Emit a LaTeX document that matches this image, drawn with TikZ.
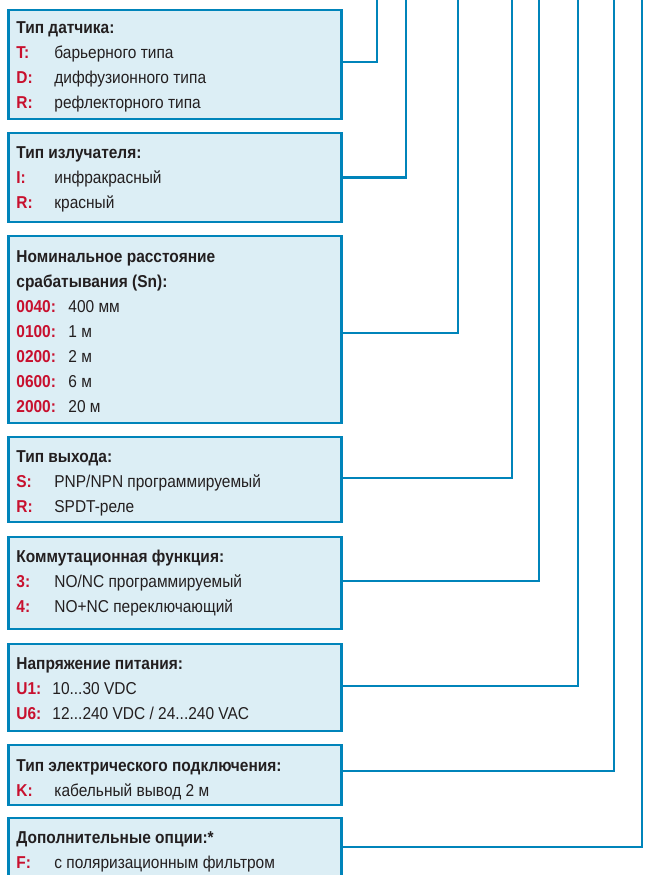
\documentclass[tikz,border=0pt]{standalone}
\usepackage{fontspec}
\setmainfont{Liberation Sans}[FakeStretch=0.9]
\usetikzlibrary{calc}
\definecolor{linkblue}{RGB}{0,132,186}
\definecolor{boxfill}{RGB}{220,238,245}
\definecolor{keyred}{RGB}{200,16,46}
\definecolor{textdark}{RGB}{35,31,32}
\newcommand{\optkey}[1]{\textcolor{keyred}{\bfseries #1}}
\newcommand{\opthead}[1]{\multicolumn{2}{@{}l@{}}{\bfseries #1}}
\tikzset{
    codebox/.style={rectangle,draw=linkblue,fill=boxfill,line width=2.6pt,
        anchor=north west,minimum width=332.6pt,inner sep=0pt,outer sep=0pt},
    codetext/.style={anchor=base west,inner sep=0pt,text=textdark,
        font=\fontsize{17.2}{25}\selectfont},
    leader/.style={draw=linkblue,line width=2.2pt}
}

\begin{document}
\begin{tikzpicture}[x=1pt,y=-1pt]
    \clip (0,0) rectangle (650,875);
    % Code positions at the top
    \coordinate (sensor-top) at (377,-5);
    \coordinate (emitter-top) at (406,-5);
    \coordinate (range-top) at (458,-5);
    \coordinate (output-top) at (512,-5);
    \coordinate (switching-top) at (539,-5);
    \coordinate (supply-top) at (578,-5);
    \coordinate (connection-top) at (614,-5);
    \coordinate (options-top) at (642,-5);
    % Boxes
    \node[codebox,minimum height=109pt] (sensor) at (8.7,10) {};
    \node[codebox,minimum height=89pt] (emitter) at (8.7,133) {};
    \node[codebox,minimum height=187pt] (range) at (8.7,236) {};
    \node[codebox,minimum height=85pt] (output) at (8.7,437) {};
    \node[codebox,minimum height=92pt] (switching) at (8.7,537) {};
    \node[codebox,minimum height=87pt] (supply) at (8.7,644) {};
    \node[codebox,minimum height=60pt] (connection) at (8.7,745) {};
    \node[codebox,minimum height=60pt] (options) at (8.7,818) {};
    % Leaders
    \draw[leader] ([yshift=2.5pt]sensor.east) -| (sensor-top);
    \draw[leader] (emitter.east) -| (emitter-top);
    \draw[leader] ([yshift=-3.5pt]range.east) -| (range-top);
    \draw[leader] ([yshift=1.5pt]output.east) -| (output-top);
    \draw[leader] ([yshift=2pt]switching.east) -| (switching-top);
    \draw[leader] ([yshift=1.5pt]supply.east) -| (supply-top);
    \draw[leader] ([yshift=4pt]connection.east) -| (connection-top);
    \draw[leader] ([yshift=1pt]options.east) -| (options-top);
    % Texts
    \node[codetext] (sensor-txt) at ([xshift=7.5pt,yshift=-24pt]sensor.north west)
        {\begin{tabular}[t]{@{}p{38pt}@{}l@{}}
        \opthead{Тип датчика:}\\
        \optkey{T:} & барьерного типа\\
        \optkey{D:} & диффузионного типа\\
        \optkey{R:} & рефлекторного типа
        \end{tabular}};
    \node[codetext] (emitter-txt) at ([xshift=7.5pt,yshift=-25pt]emitter.north west)
        {\begin{tabular}[t]{@{}p{38pt}@{}l@{}}
        \opthead{Тип излучателя:}\\
        \optkey{I:} & инфракрасный\\
        \optkey{R:} & красный
        \end{tabular}};
    \node[codetext] (range-txt) at ([xshift=7.5pt,yshift=-26pt]range.north west)
        {\begin{tabular}[t]{@{}p{52pt}@{}l@{}}
        \opthead{Номинальное расстояние}\\
        \opthead{срабатывания (Sn):}\\
        \optkey{0040:} & 400 мм\\
        \optkey{0100:} & 1 м\\
        \optkey{0200:} & 2 м\\
        \optkey{0600:} & 6 м\\
        \optkey{2000:} & 20 м
        \end{tabular}};
    \node[codetext] (output-txt) at ([xshift=7.5pt,yshift=-25pt]output.north west)
        {\begin{tabular}[t]{@{}p{38pt}@{}l@{}}
        \opthead{Тип выхода:}\\
        \optkey{S:} & PNP/NPN программируемый\\
        \optkey{R:} & SPDT-реле
        \end{tabular}};
    \node[codetext] (switching-txt) at ([xshift=7.5pt,yshift=-25pt]switching.north west)
        {\begin{tabular}[t]{@{}p{38pt}@{}l@{}}
        \opthead{Коммутационная функция:}\\
        \optkey{3:} & NO/NC программируемый\\
        \optkey{4:} & NO+NC переключающий
        \end{tabular}};
    \node[codetext] (supply-txt) at ([xshift=7.5pt,yshift=-25pt]supply.north west)
        {\begin{tabular}[t]{@{}p{36pt}@{}l@{}}
        \opthead{Напряжение питания:}\\
        \optkey{U1:} & 10...30 VDC\\
        \optkey{U6:} & 12...240 VDC / 24...240 VAC
        \end{tabular}};
    \node[codetext] (connection-txt) at ([xshift=7.5pt,yshift=-26pt]connection.north west)
        {\begin{tabular}[t]{@{}p{38pt}@{}l@{}}
        \opthead{Тип электрического подключения:}\\
        \optkey{K:} & кабельный вывод 2 м
        \end{tabular}};
    \node[codetext] (options-txt) at ([xshift=7.5pt,yshift=-25pt]options.north west)
        {\begin{tabular}[t]{@{}p{38pt}@{}l@{}}
        \opthead{Дополнительные опции:*}\\
        \optkey{F:} & с поляризационным фильтром
        \end{tabular}};
\end{tikzpicture}
\end{document}
